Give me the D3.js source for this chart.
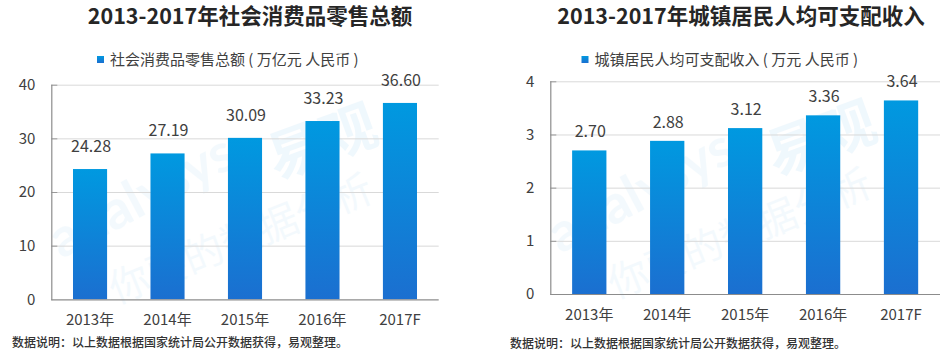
<!DOCTYPE html>
<html>
<head>
<meta charset="utf-8">
<script src="https://cdn.jsdelivr.net/npm/d3@7"></script>
<style>
  html, body { margin: 0; padding: 0; background: #fff; }
  svg { display: block; font-family: "Noto Sans CJK SC", "Noto Sans", sans-serif; }
</style>
</head>
<body>
<svg id="chart" width="945" height="353"></svg>
<script>
// ---- data ----
const categories = ["2013年", "2014年", "2015年", "2016年", "2017F"];
const retailValues = [24.28, 27.19, 30.09, 33.23, 36.60];
const incomeValues = [2.70, 2.88, 3.12, 3.36, 3.64];
const retailTicks = [0, 10, 20, 30, 40];
const incomeTicks = [0, 1, 2, 3, 4];
const retailTitle = "2013-2017年社会消费品零售总额";
const incomeTitle = "2013-2017年城镇居民人均可支配收入";
const retailLegend = "社会消费品零售总额 ( 万亿元 人民币 )";
const incomeLegend = "城镇居民人均可支配收入 ( 万元 人民币 )";
const footnote = "数据说明：以上数据根据国家统计局公开数据获得，易观整理。";

const svg = d3.select("#chart");
const defs = svg.append("defs");
const grad = defs.append("linearGradient").attr("id", "barGrad")
  .attr("x1", 0).attr("y1", 0).attr("x2", 0).attr("y2", 1);
grad.append("stop").attr("offset", "0%").attr("stop-color", "#0099E0");
grad.append("stop").attr("offset", "100%").attr("stop-color", "#1B6FD0");

function drawChart(cfg) {
  const g = svg.append("g");
  const x = d3.scaleBand().domain(categories).range([cfg.x0, cfg.x1])
    .paddingInner(0.56).paddingOuter(0.28);
  const y = d3.scaleLinear().domain([0, d3.max(cfg.ticks)]).range([cfg.y0, cfg.y1]);

  // watermark
  const wm = g.append("g").attr("pointer-events", "none");
  wm.append("text").attr("transform", `translate(${cfg.x0 + 10},${cfg.y0 - 40}) rotate(-28)`)
    .attr("font-size", 54).attr("font-weight", "bold").attr("fill", "#0a8fe0").attr("opacity", 0.045)
    .attr("font-family", "Lato, sans-serif").text("analysys");
  wm.append("text").attr("transform", `translate(${cfg.x0 + 225},${cfg.y1 + 95}) rotate(-20)`)
    .attr("font-size", 56).attr("font-weight", "bold").attr("fill", "#0a8fe0").attr("opacity", 0.06)
    .text("易观");
  wm.append("text").attr("transform", `translate(${cfg.x0 + 65},${cfg.y0 + 5}) rotate(-22)`)
    .attr("font-size", 40).attr("fill", "#0a8fe0").attr("opacity", 0.045)
    .text("你要的数据分析");

  // gridlines
  g.append("g").selectAll("line").data(cfg.ticks.filter(t => t > 0)).join("line")
    .attr("x1", cfg.x0).attr("x2", cfg.x1)
    .attr("y1", d => y(d) + 0.5).attr("y2", d => y(d) + 0.5)
    .attr("stroke", "#D9D9D9").attr("stroke-width", 1);
  // inner ticks
  g.append("g").selectAll("line").data(cfg.ticks.filter(t => t > 0)).join("line")
    .attr("x1", cfg.x0).attr("x2", cfg.x0 + 6)
    .attr("y1", d => y(d) + 0.5).attr("y2", d => y(d) + 0.5)
    .attr("stroke", "#999").attr("stroke-width", 1);

  // bars
  g.append("g").selectAll("rect").data(cfg.values).join("rect")
    .attr("x", (d, i) => x(categories[i]))
    .attr("width", x.bandwidth())
    .attr("y", d => y(d))
    .attr("height", d => y(0) - y(d))
    .attr("fill", "url(#barGrad)");

  // axes lines
  g.append("line").attr("x1", cfg.x0 + 0.5).attr("x2", cfg.x0 + 0.5)
    .attr("y1", cfg.y1).attr("y2", cfg.y0 + 1)
    .attr("stroke", "#8C8C8C").attr("stroke-width", 1.2);
  g.append("line").attr("x1", cfg.x0).attr("x2", cfg.x1)
    .attr("y1", cfg.y0 + 0.5).attr("y2", cfg.y0 + 0.5)
    .attr("stroke", "#8C8C8C").attr("stroke-width", 1.2);

  // y tick labels
  g.append("g").selectAll("text").data(cfg.ticks).join("text")
    .attr("x", cfg.x0 - 16).attr("y", d => y(d)).attr("dy", "0.36em")
    .attr("text-anchor", "end").attr("font-size", 15).attr("fill", "#404040")
    .text(d => d);

  // x labels
  g.append("g").selectAll("text").data(categories).join("text")
    .attr("x", d => x(d) + x.bandwidth() / 2).attr("y", cfg.y0 + 26)
    .attr("text-anchor", "middle").attr("font-size", 15).attr("fill", "#404040")
    .text(d => d);

  // value labels
  g.append("g").selectAll("text").data(cfg.values).join("text")
    .attr("x", (d, i) => x(categories[i]) + x.bandwidth() / 2 + 1)
    .attr("y", d => y(d) - cfg.labelGap)
    .attr("text-anchor", "middle").attr("font-size", 16).attr("fill", "#404040")
    .text(d => d.toFixed(2));

  // title
  g.append("text").attr("x", cfg.titleX).attr("y", 24)
    .attr("text-anchor", "middle").attr("font-size", 21.5).attr("font-weight", "bold")
    .attr("fill", "#262626").text(cfg.title);

  // legend
  g.append("rect").attr("x", cfg.legendX).attr("y", 56).attr("width", 7).attr("height", 7)
    .attr("fill", "url(#barGrad)");
  g.append("text").attr("x", cfg.legendX + 13).attr("y", 64.5)
    .attr("font-size", 15).attr("fill", "#404040").text(cfg.legend);

  // footnote
  g.append("text").attr("x", cfg.footX).attr("y", cfg.footY)
    .attr("font-size", 12).attr("fill", "#333").attr("font-weight", 500).text(footnote);
}

drawChart({
  values: retailValues, ticks: retailTicks, title: retailTitle, legend: retailLegend,
  x0: 51.3, x1: 438.7, y0: 299.3, y1: 84.7, labelGap: 17,
  titleX: 250, legendX: 97, footX: 12, footY: 346.5
});
drawChart({
  values: incomeValues, ticks: incomeTicks, title: incomeTitle, legend: incomeLegend,
  x0: 550.3, x1: 940, y0: 294, y1: 81.3, labelGap: 13,
  titleX: 741, legendX: 581.5, footX: 510, footY: 348
});
</script>
</body>
</html>
